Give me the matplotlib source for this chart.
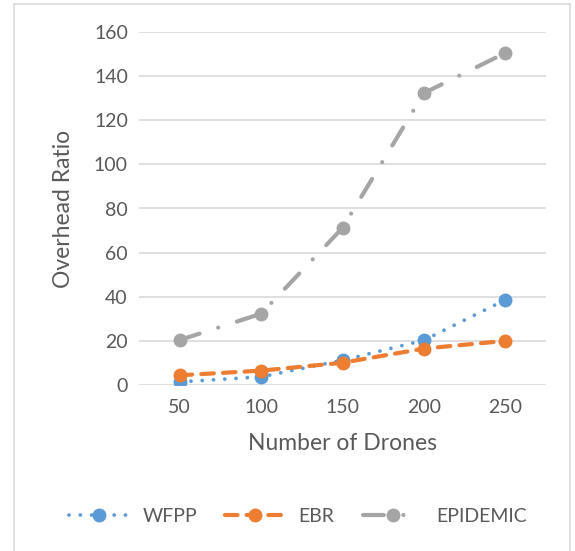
import matplotlib.pyplot as plt
from matplotlib.patches import Rectangle

drones = [50, 100, 150, 200, 250]
wfpp = [1.4, 3.7, 11.2, 20.3, 38.6]
ebr = [4.4, 6.5, 10.1, 16.5, 20.0]
epidemic = [20.4, 32.3, 71.2, 132.3, 150.5]
yticks = [0, 20, 40, 60, 80, 100, 120, 140, 160]

plt.rcParams['font.family'] = ['Lato', 'DejaVu Sans']
text_col = '#595959'

fig = plt.figure(figsize=(5.75, 5.51), dpi=100)
ax = fig.add_axes([139/575, 1 - 385/551, 407/575, 353/551])

# chart frame
fig.patches.append(Rectangle((14/575, -0.05), 556/575, 1.05 - 4/551, transform=fig.transFigure,
                             fill=False, edgecolor='#d9d9d9', linewidth=1.2))

x = range(len(drones))
ax.plot(x, wfpp, color='#5b9bd5', lw=2.7, dashes=(0.01, 3.0), dash_capstyle='round',
        marker='o', ms=9, label='WFPP')
ax.plot(x, ebr, color='#ed7d31', lw=3, dashes=(3, 2.2), dash_capstyle='round',
        marker='o', ms=9, label='EBR')
ax.plot(x, epidemic, color='#a5a5a5', lw=3, dashes=(5, 4.7, 0.01, 4.7), dash_capstyle='round',
        marker='o', ms=9, label='EPIDEMIC')

ax.set_xlim(-0.5, len(drones) - 0.5)
ax.set_ylim(0, 160)
ax.set_xticks(list(x))
ax.set_xticklabels([str(d) for d in drones])
ax.set_yticks(yticks)
ax.grid(axis='y', color='#d9d9d9', lw=1.2)
ax.set_axisbelow(True)
for s in ax.spines.values():
    s.set_visible(False)
ax.tick_params(length=0, labelsize=14, labelcolor=text_col, pad=8)
ax.tick_params(axis='x', pad=10)

ax.set_xlabel('Number of Drones', fontsize=16.5, color=text_col, labelpad=12)
ax.set_ylabel('Overhead Ratio', fontsize=16.5, color=text_col, labelpad=14)

fig.legend(loc='center', bbox_to_anchor=(0.518, 1 - 516/551), ncol=3, frameon=False,
           fontsize=14, labelcolor=text_col, handlelength=3.1, columnspacing=1.45,
           handletextpad=0.67)

fig.savefig('out.png', dpi=100)
